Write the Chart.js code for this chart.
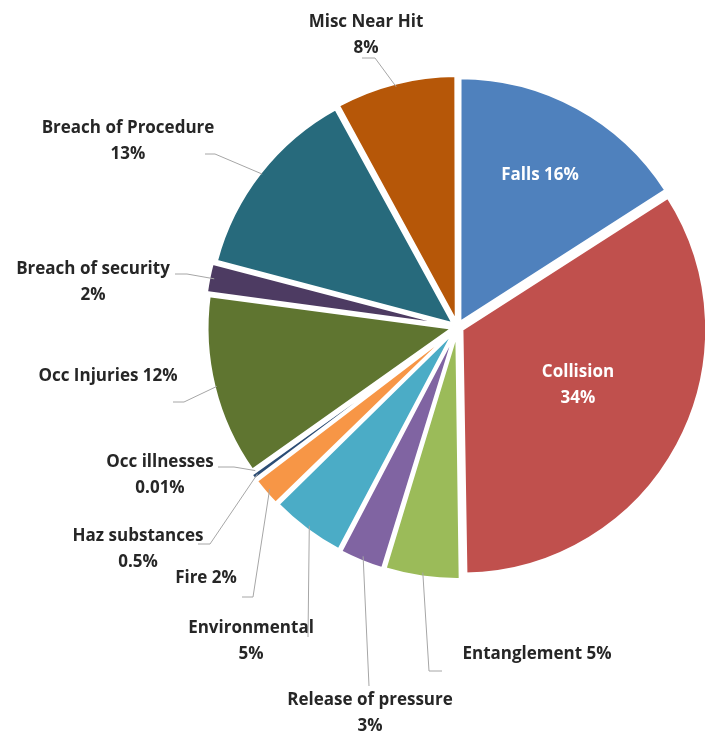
<!DOCTYPE html>
<html>
<head>
<meta charset="utf-8">
<script src="https://cdn.jsdelivr.net/npm/chart.js@4.4.1/dist/chart.umd.min.js"></script>
<style>
  html, body { margin: 0; padding: 0; background: #fff; }
  .wrap { width: 705px; height: 734px; position: relative; }
</style>
</head>
<body>
<div class="wrap"><canvas id="pie"></canvas></div>
<script>
// incident categories, clockwise from 12 o'clock
const categories = ['Falls', 'Collision', 'Entanglement', 'Release of pressure', 'Environmental', 'Fire',
  'Haz substances', 'Occ illnesses', 'Occ Injuries', 'Breach of security', 'Breach of Procedure', 'Misc Near Hit'];
const shares = [16, 34, 5, 3, 5, 2, 0.5, 0.01, 12, 2, 13, 8];
const sliceColors = ['#4F81BD', '#C0504D', '#9BBB59', '#8064A2', '#4BACC6', '#F79646',
  '#2C4D75', '#772C2A', '#5F7530', '#4D3B62', '#276A7C', '#B65708'];

// label placement: text centre, whether name+pct share a line, leader start/elbow (null = inside label)
const labelLayout = [
  { x: 540, y: 175, oneLine: true,  inside: true },
  { x: 578, y: 372, oneLine: false, inside: true },
  { x: 537, y: 654, oneLine: true,  leader: [[442, 671], [429, 671]] },
  { x: 370, y: 700, oneLine: false, leader: [[369, 686], [369, 686]] },
  { x: 251, y: 628, oneLine: false, leader: [[308, 637], [308, 637]] },
  { x: 206, y: 578, oneLine: true,  leader: [[242, 597], [253, 597]] },
  { x: 138, y: 536, oneLine: false, leader: [[198, 544], [210, 544]] },
  { x: 160, y: 462, oneLine: false, leader: [[218, 467], [234, 467]] },
  { x: 108, y: 376, oneLine: true,  leader: [[173, 402], [184, 402]] },
  { x: 93,  y: 269, oneLine: false, leader: [[175, 274], [187, 274]] },
  { x: 128, y: 128, oneLine: false, leader: [[205, 154], [215, 154]] },
  { x: 366, y: 22,  oneLine: false, leader: [[362, 58], [375, 58]] }
];

const pctText = v => v + '%';

// draws the data labels and leader lines, ending on each slice's outer edge
const pieLabels = {
  id: 'pieLabels',
  afterDatasetsDraw(chart) {
    const ctx = chart.ctx;
    const arcs = chart.getDatasetMeta(0).data;
    ctx.save();
    ctx.font = 'bold 17px "Open Sans"';
    ctx.textAlign = 'center';
    ctx.textBaseline = 'middle';
    arcs.forEach((arc, i) => {
      const lay = labelLayout[i];
      const name = categories[i];
      const pct = pctText(shares[i]);
      if (lay.leader) {
        const mid = (arc.startAngle + arc.endAngle) / 2;
        const r = arc.outerRadius + 4;
        const ex = arc.x + Math.cos(mid) * r;
        const ey = arc.y + Math.sin(mid) * r;
        ctx.strokeStyle = '#A6A6A6';
        ctx.lineWidth = 1;
        ctx.beginPath();
        ctx.moveTo(lay.leader[0][0], lay.leader[0][1]);
        ctx.lineTo(lay.leader[1][0], lay.leader[1][1]);
        ctx.lineTo(ex, ey);
        ctx.stroke();
      }
      ctx.fillStyle = lay.inside ? '#ffffff' : '#262626';
      if (lay.oneLine) {
        ctx.fillText(name + ' ' + pct, lay.x, lay.y);
      } else {
        ctx.fillText(name, lay.x, lay.y);
        ctx.fillText(pct, lay.x, lay.y + 26);
      }
    });
    ctx.restore();
  }
};

new Chart(document.getElementById('pie'), {
  type: 'pie',
  data: {
    labels: categories,
    datasets: [{
      data: shares,
      backgroundColor: sliceColors,
      borderColor: '#ffffff',
      borderWidth: 3,
      offset: 20,
      radius: 244,
      clip: false
    }]
  },
  options: {
    responsive: true,
    maintainAspectRatio: false,
    animation: false,
    layout: { padding: { left: 210, right: 0, top: 0, bottom: 80 } },
    plugins: {
      legend: { display: false },
      tooltip: { enabled: false }
    }
  },
  plugins: [pieLabels]
});
</script>
</body>
</html>
